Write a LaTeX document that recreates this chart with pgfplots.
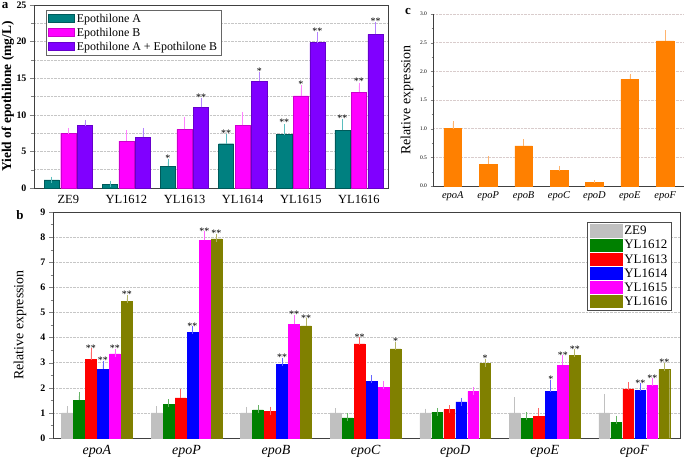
\documentclass[border=0pt]{standalone}
\usepackage{fontspec}
\setmainfont{Liberation Serif}
\usepackage{pgfplots}
\pgfplotsset{compat=1.18}

\definecolor{cteal}{RGB}{0,128,128}
\definecolor{cteale}{RGB}{90,190,190}
\definecolor{cmag}{RGB}{255,0,255}
\definecolor{cmage}{RGB}{255,130,255}
\definecolor{cvio}{RGB}{128,0,255}
\definecolor{cvioe}{RGB}{180,130,255}
\definecolor{csil}{RGB}{192,192,192}
\definecolor{cgrn}{RGB}{0,128,0}
\definecolor{cred}{RGB}{255,0,0}
\definecolor{cblu}{RGB}{0,0,255}
\definecolor{coli}{RGB}{128,128,0}
\definecolor{corg}{RGB}{255,128,0}
\definecolor{corge}{RGB}{255,180,110}

\pgfplotsset{
  legrectA/.style={legend image code/.code={\fill[##1] (0bp,-3.5bp) rectangle (26bp,4.5bp);}},
  legrectB/.style={legend image code/.code={\fill[##1] (0bp,-6bp) rectangle (32bp,6.5bp);}},
  errs/.style 2 args={error bars/.cd, y dir=plus, y explicit,
     error bar style={color=#1, line width=0.6pt},
     error mark options={color=#1, line width=0.6pt, mark size=#2}},
}
\tikzset{stars/.style={anchor=south, inner sep=0.5bp, font=\fontsize{10}{10}\selectfont}}

\begin{document}
\begin{tikzpicture}
\path[use as bounding box] (0bp,0bp) rectangle (685bp,459bp);

% ---------------- panel a ----------------
\begin{axis}[
  at={(34bp,271bp)}, anchor=south west, scale only axis,
  width=354bp, height=183bp,
  xmin=-0.59, xmax=5.5, ymin=0, ymax=25,
  xtick={0,1,2,3,4,5},
  xticklabels={ZE9,YL1612,YL1613,YL1614,YL1615,YL1616},
  x tick label style={font=\fontsize{12.5}{14}\selectfont},
  xtick style={draw=none},
  ytick={0,5,10,15,20,25}, minor ytick={2.5,7.5,12.5,17.5,22.5},
  ytick pos=left, xtick pos=bottom,
  tick align=outside, major tick length=4bp, minor tick length=2.5bp,
  y tick label style={font=\fontsize{10}{12}\selectfont\bfseries},
  /pgf/number format/assume math mode=true,
  ymajorgrids, yminorgrids,
  major grid style={densely dotted, gray!45}, minor grid style={densely dotted, gray!45},
  axis line style={black!75, line width=0.8pt},
  ylabel={Yield of epothilone (mg/L)},
  ylabel style={font=\fontsize{13.5}{15}\selectfont\bfseries, at={(axis description cs:-0.074,0.5)}, anchor=center},
  legend style={at={(0.034,0.973)}, anchor=north west, font=\fontsize{12}{13}\selectfont,
     draw=black!60, line width=0.6pt, row sep=0bp, inner sep=2bp, cells={anchor=west}},
  clip=false,
]
\addplot[ybar, bar width=0.26, bar shift=0, fill=cteal, draw=cteal!70!black, legrectA,
  errs={cteale}{3bp}] coordinates {
  (-0.285,1.1) +- (0,0.05) (0.715,0.5) +- (0,0.1) (1.715,3.0) +- (0,0.5)
  (2.715,6.05) +- (0,0.85) (3.715,7.3) +- (0,1.1) (4.715,7.9) +- (0,1.15)};
\addplot[ybar, bar width=0.26, bar shift=0, fill=cmag, draw=cmag!80!black, legrectA,
  errs={cmage}{3bp}] coordinates {
  (0,7.5) +- (0,0.3) (1,6.4) +- (0,1.1) (2,8.0) +- (0,1.3)
  (3,8.55) +- (0,1.45) (4,12.6) +- (0,1.0) (5,13.1) +- (0,0.9)};
\addplot[ybar, bar width=0.26, bar shift=0, fill=cvio, draw=cvio!80!black, legrectA,
  errs={cvioe}{3bp}] coordinates {
  (0.285,8.6) +- (0,0.3) (1.285,6.9) +- (0,0.9) (2.285,11.0) +- (0,0.9)
  (3.285,14.6) +- (0,0.8) (4.285,19.85) +- (0,1.05) (5.285,21.0) +- (0,1.3)};
\legend{Epothilone A, Epothilone B, Epothilone A + Epothilone B}
\node[stars] at (axis cs:1.715,3.5) {*};
\node[stars] at (axis cs:2.285,11.9) {**};
\node[stars] at (axis cs:2.715,6.9) {**};
\node[stars] at (axis cs:3.285,15.4) {*};
\node[stars] at (axis cs:3.715,8.4) {**};
\node[stars] at (axis cs:4,13.6) {*};
\node[stars] at (axis cs:4.285,20.9) {**};
\node[stars] at (axis cs:4.715,9.05) {**};
\node[stars] at (axis cs:5,14.0) {**};
\node[stars] at (axis cs:5.285,22.3) {**};
\end{axis}

% ---------------- panel b ----------------
\begin{axis}[
  at={(53bp,21bp)}, anchor=south west, scale only axis,
  width=627bp, height=226bp,
  xmin=-0.49, xmax=6.51, ymin=0, ymax=9,
  xtick={0,1,2,3,4,5,6},
  xticklabels={epoA,epoP,epoB,epoC,epoD,epoE,epoF},
  x tick label style={font=\fontsize{14}{16}\selectfont\itshape},
  xtick style={draw=none},
  ytick={0,1,...,9}, minor ytick={0.5,1.5,...,8.5},
  ytick pos=left, xtick pos=bottom,
  tick align=outside, major tick length=4bp, minor tick length=2.5bp,
  y tick label style={font=\fontsize{10}{12}\selectfont\bfseries},
  /pgf/number format/assume math mode=true,
  ymajorgrids, major grid style={densely dotted, gray!45},
  axis line style={black!75, line width=0.8pt},
  ylabel={Relative expression},
  ylabel style={font=\fontsize{14}{16}\selectfont, at={(axis description cs:-0.0526,0.5)}, anchor=center},
  legend style={at={(0.987,0.956)}, anchor=north east, font=\fontsize{13}{14}\selectfont,
     draw=black!70, line width=0.8pt, row sep=0bp, inner sep=2bp, cells={anchor=west}},
  clip=false,
]
\addplot[ybar, bar width=0.12, bar shift=0, fill=csil, draw=csil, legrectB, errs={csil}{4bp}] coordinates {
  (-0.335,1.0) +- (0,0.1) (0.665,1.0) +- (0,0.1) (1.665,1.0) +- (0,0.08) (2.665,1.0) +- (0,0.02)
  (3.665,1.0) +- (0,0.01) (4.665,1.0) +- (0,0.47) (5.665,1.0) +- (0,0.6)};
\addplot[ybar, bar width=0.12, bar shift=0, fill=cgrn, draw=cgrn, legrectB, errs={cgrn!60}{4bp}] coordinates {
  (-0.201,1.5) +- (0,0.17) (0.799,1.35) +- (0,0.03) (1.799,1.12) +- (0,0.03) (2.799,0.8) +- (0,0.02)
  (3.799,1.03) +- (0,0.01) (4.799,0.78) +- (0,0.09) (5.799,0.63) +- (0,0.1)};
\addplot[ybar, bar width=0.12, bar shift=0, fill=cred, draw=cred, legrectB, errs={cred!60}{4bp}] coordinates {
  (-0.067,3.12) +- (0,0.29) (0.933,1.6) +- (0,0.2) (1.933,1.06) +- (0,0.03) (2.933,3.75) +- (0,0.1)
  (3.933,1.13) +- (0,0.01) (4.933,0.87) +- (0,0.17) (5.933,1.96) +- (0,0.11)};
\addplot[ybar, bar width=0.12, bar shift=0, fill=cblu, draw=cblu, legrectB, errs={cblu!60}{4bp}] coordinates {
  (0.067,2.73) +- (0,0.19) (1.067,4.21) +- (0,0.09) (2.067,2.92) +- (0,0.12) (3.067,2.25) +- (0,0.09)
  (4.067,1.44) +- (0,0.01) (5.067,1.85) +- (0,0.32) (6.067,1.9) +- (0,0.13)};
\addplot[ybar, bar width=0.12, bar shift=0, fill=cmag, draw=cmag, legrectB, errs={cmag!60}{4bp}] coordinates {
  (0.201,3.35) +- (0,0.05) (1.201,7.87) +- (0,0.2) (2.201,4.52) +- (0,0.23) (3.201,2.03) +- (0,0.08)
  (4.201,1.86) +- (0,0.01) (5.201,2.9) +- (0,0.24) (6.201,2.11) +- (0,0.12)};
\addplot[ybar, bar width=0.12, bar shift=0, fill=coli, draw=coli, legrectB, errs={coli!60}{4bp}] coordinates {
  (0.335,5.43) +- (0,0.12) (1.335,7.93) +- (0,0.05) (2.335,4.47) +- (0,0.15) (3.335,3.55) +- (0,0.13)
  (4.335,2.98) +- (0,0.01) (5.335,3.28) +- (0,0.1) (6.335,2.72) +- (0,0.12)};
\legend{ZE9,YL1612,YL1613,YL1614,YL1615,YL1616}
\node[stars] at (axis cs:-0.067,3.42) {**};
\node[stars] at (axis cs:0.067,2.93) {**};
\node[stars] at (axis cs:0.201,3.41) {**};
\node[stars] at (axis cs:0.335,5.56) {**};
\node[stars] at (axis cs:1.067,4.31) {**};
\node[stars] at (axis cs:1.201,8.08) {**};
\node[stars] at (axis cs:1.335,7.99) {**};
\node[stars] at (axis cs:2.067,3.05) {**};
\node[stars] at (axis cs:2.201,4.76) {**};
\node[stars] at (axis cs:2.335,4.63) {**};
\node[stars] at (axis cs:2.933,3.86) {**};
\node[stars] at (axis cs:3.335,3.69) {*};
\node[stars] at (axis cs:4.335,3.0) {*};
\node[stars] at (axis cs:5.067,2.18) {*};
\node[stars] at (axis cs:5.201,3.15) {**};
\node[stars] at (axis cs:5.335,3.39) {**};
\node[stars] at (axis cs:6.067,2.04) {**};
\node[stars] at (axis cs:6.201,2.24) {**};
\node[stars] at (axis cs:6.335,2.85) {**};
\end{axis}

% ---------------- panel c ----------------
\begin{axis}[
  at={(433bp,273bp)}, anchor=south west, scale only axis,
  width=251bp, height=172bp,
  xmin=-0.56, xmax=6.53, ymin=0, ymax=3,
  axis x line=bottom, axis y line=left, axis line style={-, black!75, line width=0.6pt},
  xtick={0,1,2,3,4,5,6},
  xticklabels={epoA,epoP,epoB,epoC,epoD,epoE,epoF},
  x tick label style={font=\fontsize{10.5}{12}\selectfont\itshape},
  xtick style={draw=none},
  ytick={0,0.5,...,3}, minor ytick={0.25,0.75,...,2.75},
  tick align=outside, major tick length=2.5bp, minor tick length=1.5bp,
  y tick label style={font=\fontsize{5.5}{6}\selectfont, /pgf/number format/.cd, fixed, fixed zerofill, precision=1},
  /pgf/number format/assume math mode=true,
  ymajorgrids, major grid style={densely dotted, red!15!gray!35},
  ylabel={Relative expression},
  ylabel style={font=\fontsize{14}{16}\selectfont, at={(axis description cs:-0.104,0.5)}, anchor=center},
  clip=false,
]
\addplot[ybar, bar width=0.5, bar shift=0, fill=corg, draw=corg, errs={corge}{1.5bp}] coordinates {
  (0,1.0) +- (0,0.1) (1,0.38) +- (0,0.12) (2,0.70) +- (0,0.09) (3,0.27) +- (0,0.06)
  (4,0.06) +- (0,0.01) (5,1.86) +- (0,0.07) (6,2.53) +- (0,0.16)};
\end{axis}

\node[font=\fontsize{13}{15}\selectfont\bfseries] at (5bp,453bp) {a};
\node[font=\fontsize{13}{15}\selectfont\bfseries] at (20bp,244bp) {b};
\node[font=\fontsize{13}{15}\selectfont\bfseries] at (408bp,447bp) {c};
\end{tikzpicture}
\end{document}
